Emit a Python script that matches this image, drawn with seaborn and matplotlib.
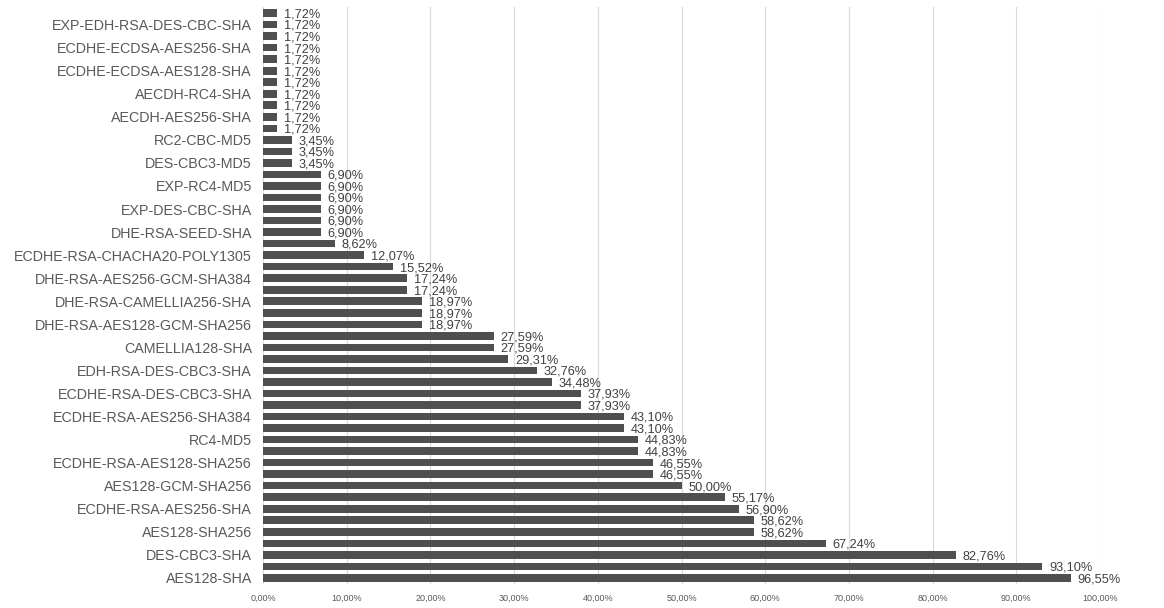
import matplotlib
matplotlib.use("Agg")
import matplotlib.pyplot as plt
import seaborn as sns
import pandas as pd
from matplotlib.ticker import FuncFormatter

# Cipher suites, top to bottom (only every other label is shown in the original)
labels = [
    "", "EXP-EDH-RSA-DES-CBC-SHA", "", "ECDHE-ECDSA-AES256-SHA", "",
    "ECDHE-ECDSA-AES128-SHA", "", "AECDH-RC4-SHA", "", "AECDH-AES256-SHA",
    "", "RC2-CBC-MD5", "", "DES-CBC3-MD5", "", "EXP-RC4-MD5", "",
    "EXP-DES-CBC-SHA", "", "DHE-RSA-SEED-SHA", "", "ECDHE-RSA-CHACHA20-POLY1305",
    "", "DHE-RSA-AES256-GCM-SHA384", "", "DHE-RSA-CAMELLIA256-SHA", "",
    "DHE-RSA-AES128-GCM-SHA256", "", "CAMELLIA128-SHA", "", "EDH-RSA-DES-CBC3-SHA",
    "", "ECDHE-RSA-DES-CBC3-SHA", "", "ECDHE-RSA-AES256-SHA384", "", "RC4-MD5",
    "", "ECDHE-RSA-AES128-SHA256", "", "AES128-GCM-SHA256", "",
    "ECDHE-RSA-AES256-SHA", "", "AES128-SHA256", "", "DES-CBC3-SHA", "",
    "AES128-SHA",
]
values = [
    1.72, 1.72, 1.72, 1.72, 1.72, 1.72, 1.72, 1.72, 1.72, 1.72, 1.72,
    3.45, 3.45, 3.45,
    6.90, 6.90, 6.90, 6.90, 6.90, 6.90,
    8.62, 12.07, 15.52, 17.24, 17.24, 18.97, 18.97, 18.97,
    27.59, 27.59, 29.31, 32.76, 34.48, 37.93, 37.93,
    43.10, 43.10, 44.83, 44.83, 46.55, 46.55, 50.00,
    55.17, 56.90, 58.62, 58.62, 67.24, 82.76, 93.10, 96.55,
]
xticks = [0, 10, 20, 30, 40, 50, 60, 70, 80, 90, 100]

keys = [f"k{i}" for i in range(len(values))]
df = pd.DataFrame({"key": keys, "value": values})

fig = plt.figure(figsize=(11.64, 6.08), dpi=100)
ax = fig.add_axes([0.226, 0.040, 0.719, 0.948])

sns.barplot(data=df, x="value", y="key", orient="h", order=keys,
            color="#4f4f4f", saturation=1, width=0.66, ax=ax, zorder=3)

ax.set_xlim(0, 100)
ax.set_ylim(len(values) - 0.5, -0.5)
ax.set_xticks(xticks)
ax.xaxis.set_major_formatter(FuncFormatter(lambda v, p: f"{v:.2f}%".replace(".", ",")))
ax.set_yticks(range(len(labels)))
ax.set_yticklabels(labels)
ax.grid(axis="x", color="#d9d9d9", linewidth=0.8, zorder=0)
ax.grid(axis="y", visible=False)
ax.set_axisbelow(True)
for s in ax.spines.values():
    s.set_visible(False)
ax.set_xlabel("")
ax.set_ylabel("")
ax.tick_params(axis="y", length=0, pad=8, labelsize=10.3, labelcolor="#595959")
ax.tick_params(axis="x", length=0, pad=7, labelsize=6.5, labelcolor="#595959")
for t in ax.get_yticklabels() + ax.get_xticklabels():
    t.set_fontfamily("Liberation Sans")

for i, v in enumerate(values):
    ax.text(v + 0.8, i + 0.12, f"{v:.2f}%".replace(".", ","), va="center",
            ha="left", fontsize=9.2, color="#404040", family="Liberation Sans",
            zorder=4)

fig.savefig("out.png", dpi=100, facecolor="white")
